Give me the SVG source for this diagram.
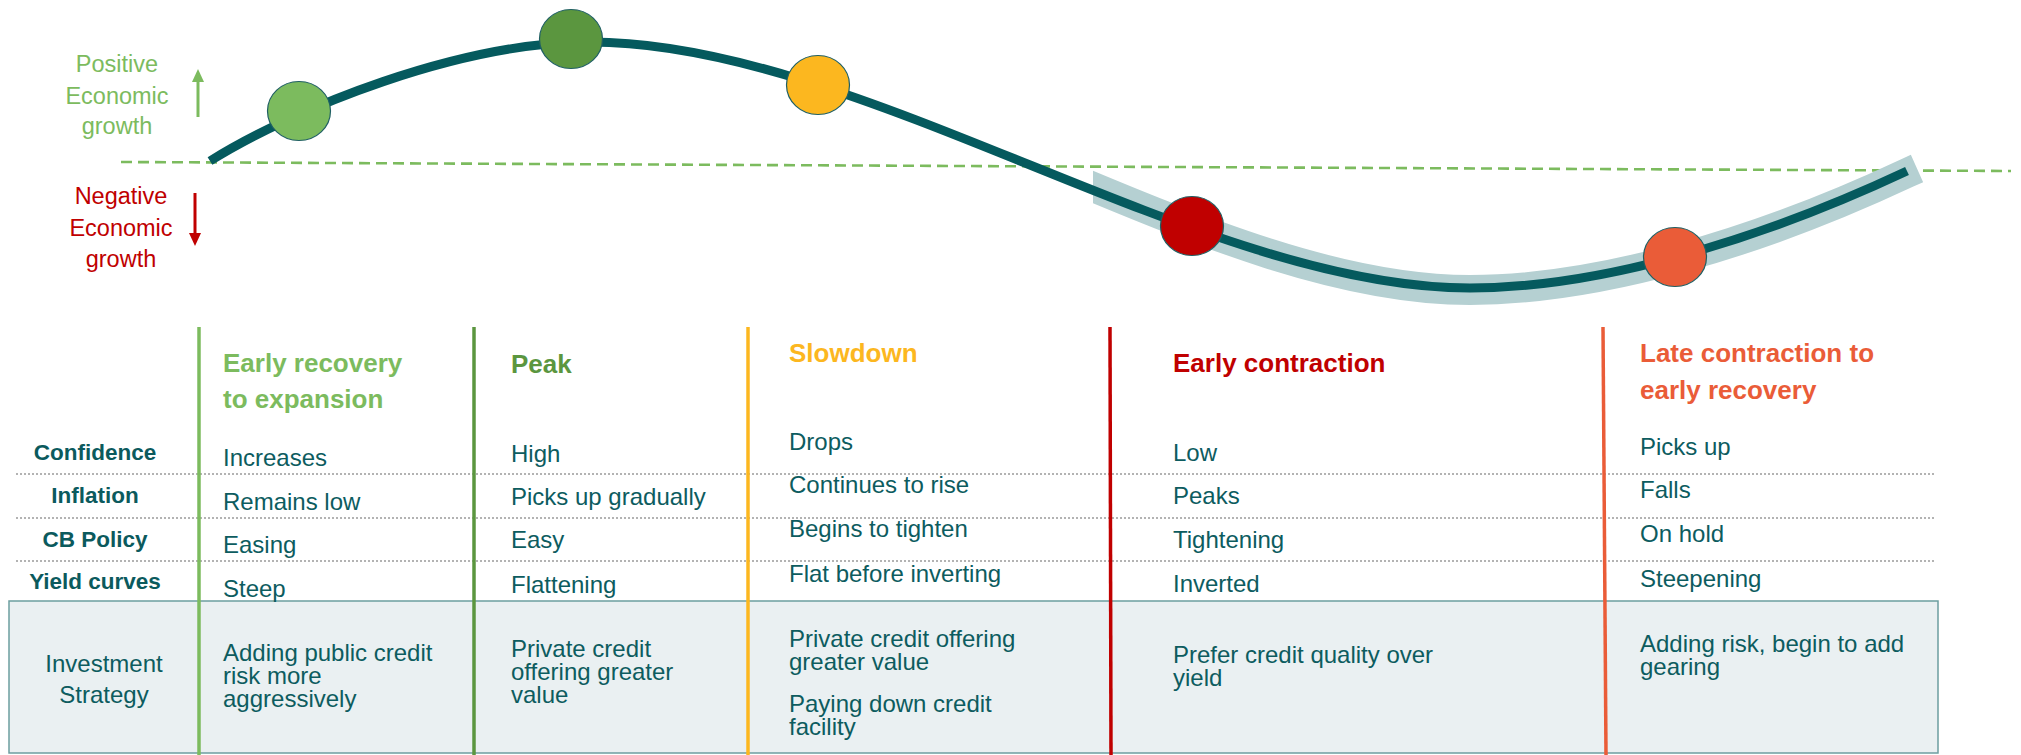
<svg xmlns="http://www.w3.org/2000/svg" width="2021" height="755" viewBox="0 0 2021 755">
  <defs>
    <style>
      text { font-family: "Liberation Sans", Arial, sans-serif; }
      .side { font-size: 23.5px; text-anchor: middle; }
      .pos { fill: #7CBB5E; }
      .neg { fill: #C00000; }
      .head { font-size: 26px; font-weight: bold; }
      .rowlbl { font-size: 22.5px; font-weight: bold; fill: #0B5A5D; text-anchor: middle; }
      .val { font-size: 24px; fill: #0D5C5F; }
      .dot { stroke: #9A9A9A; stroke-width: 1.6; stroke-dasharray: 2 2; fill: none; }
      .phase { stroke-width: 3.5; fill: none; }
      .marker { stroke: #1F5F63; stroke-width: 1.2; }
    </style>
    <clipPath id="bandClip">
      <rect x="1093" y="0" width="928" height="400"/>
    </clipPath>
  </defs>

  <rect width="2021" height="755" fill="#FFFFFF"/>

  <!-- growth axis labels -->
  <g id="positive-label">
    <text class="side pos" x="117" y="72">Positive</text>
    <text class="side pos" x="117" y="104">Economic</text>
    <text class="side pos" x="117" y="134">growth</text>
    <line x1="198" y1="117" x2="198" y2="80" stroke="#7CBB5E" stroke-width="3"/>
    <polygon points="198,69 192,82 204,82" fill="#7CBB5E"/>
  </g>
  <g id="negative-label">
    <text class="side neg" x="121" y="204">Negative</text>
    <text class="side neg" x="121" y="236">Economic</text>
    <text class="side neg" x="121" y="267">growth</text>
    <line x1="195" y1="193" x2="195" y2="235" stroke="#C00000" stroke-width="3"/>
    <polygon points="195,246 189,233 201,233" fill="#C00000"/>
  </g>

  <!-- zero-growth baseline -->
  <line x1="121" y1="162" x2="2011" y2="171" stroke="#7CBB5E" stroke-width="2.6" stroke-dasharray="11 6"/>

  <!-- business cycle curve -->
  <g id="cycle-curve">
    <path d="M1050,167 C1200,230 1340,288 1470,288 C1600,288 1760,240 1907,171 L1917,166.5"
          transform="translate(0,2)" clip-path="url(#bandClip)"
          stroke="#B5D0D2" stroke-width="30" fill="none" stroke-linecap="butt"/>
    <path d="M210,161 C295,108 460,42 590,42 C861,42 1199,288 1470,288 C1600,288 1760,240 1907,171"
          stroke="#055A5E" stroke-width="9" fill="none" stroke-linecap="butt"/>
  </g>

  <!-- phase markers on the curve -->
  <g id="marker-early-recovery"><ellipse class="marker" cx="299" cy="111" rx="31.5" ry="29.5" fill="#7CBB5E"/></g>
  <g id="marker-peak"><ellipse class="marker" cx="571" cy="39" rx="31.5" ry="29.5" fill="#5B963F"/></g>
  <g id="marker-slowdown"><ellipse class="marker" cx="818" cy="85" rx="31.5" ry="29.5" fill="#FCB71F"/></g>
  <g id="marker-early-contraction"><ellipse class="marker" cx="1192" cy="226" rx="31.5" ry="29.5" fill="#C00000"/></g>
  <g id="marker-late-contraction"><ellipse class="marker" cx="1675" cy="257" rx="31.5" ry="29.5" fill="#EA5C38"/></g>

  <!-- investment strategy band -->
  <rect x="9" y="601" width="1929" height="152" fill="#EAF0F2" stroke="#6C9EA0" stroke-width="1.5"/>

  <!-- row separators -->
  <g id="row-separators">
    <line class="dot" x1="16" y1="474" x2="1935" y2="474"/>
    <line class="dot" x1="16" y1="518" x2="1935" y2="518"/>
    <line class="dot" x1="16" y1="561" x2="1935" y2="561"/>
  </g>

  <!-- row labels -->
  <g id="row-labels">
    <text class="rowlbl" x="95" y="460">Confidence</text>
    <text class="rowlbl" x="95" y="503">Inflation</text>
    <text class="rowlbl" x="95" y="547">CB Policy</text>
    <text class="rowlbl" x="95" y="589">Yield curves</text>
    <text class="val" x="104" y="672" text-anchor="middle">Investment</text>
    <text class="val" x="104" y="703" text-anchor="middle">Strategy</text>
  </g>

  <!-- phase columns -->
  <g id="phase-early-recovery">
    <line class="phase" x1="199" y1="327" x2="199" y2="755" stroke="#7CBB5E"/>
    <text class="head" fill="#7CBB5E" x="223" y="372">Early recovery</text>
    <text class="head" fill="#7CBB5E" x="223" y="408">to expansion</text>
    <text class="val" x="223" y="466">Increases</text>
    <text class="val" x="223" y="510">Remains low</text>
    <text class="val" x="223" y="553">Easing</text>
    <text class="val" x="223" y="597">Steep</text>
    <text class="val" x="223" y="661">Adding public credit</text>
    <text class="val" x="223" y="684">risk more</text>
    <text class="val" x="223" y="707">aggressively</text>
  </g>

  <g id="phase-peak">
    <line class="phase" x1="474" y1="327" x2="474" y2="755" stroke="#5B963F"/>
    <text class="head" fill="#5B963F" x="511" y="373">Peak</text>
    <text class="val" x="511" y="462">High</text>
    <text class="val" x="511" y="505">Picks up gradually</text>
    <text class="val" x="511" y="548">Easy</text>
    <text class="val" x="511" y="593">Flattening</text>
    <text class="val" x="511" y="657">Private credit</text>
    <text class="val" x="511" y="680">offering greater</text>
    <text class="val" x="511" y="703">value</text>
  </g>

  <g id="phase-slowdown">
    <line class="phase" x1="748" y1="327" x2="748" y2="755" stroke="#FCB71F"/>
    <text class="head" fill="#FCB71F" x="789" y="362">Slowdown</text>
    <text class="val" x="789" y="450">Drops</text>
    <text class="val" x="789" y="493">Continues to rise</text>
    <text class="val" x="789" y="537">Begins to tighten</text>
    <text class="val" x="789" y="582">Flat before inverting</text>
    <text class="val" x="789" y="647">Private credit offering</text>
    <text class="val" x="789" y="670">greater value</text>
    <text class="val" x="789" y="712">Paying down credit</text>
    <text class="val" x="789" y="735">facility</text>
  </g>

  <g id="phase-early-contraction">
    <line class="phase" x1="1110" y1="327" x2="1111" y2="755" stroke="#C00000"/>
    <text class="head" fill="#C00000" x="1173" y="372">Early contraction</text>
    <text class="val" x="1173" y="461">Low</text>
    <text class="val" x="1173" y="504">Peaks</text>
    <text class="val" x="1173" y="548">Tightening</text>
    <text class="val" x="1173" y="592">Inverted</text>
    <text class="val" x="1173" y="663">Prefer credit quality over</text>
    <text class="val" x="1173" y="686">yield</text>
  </g>

  <g id="phase-late-contraction">
    <line class="phase" x1="1603" y1="327" x2="1606" y2="755" stroke="#EA5C38"/>
    <text class="head" fill="#EA5C38" x="1640" y="362">Late contraction to</text>
    <text class="head" fill="#EA5C38" x="1640" y="399">early recovery</text>
    <text class="val" x="1640" y="455">Picks up</text>
    <text class="val" x="1640" y="498">Falls</text>
    <text class="val" x="1640" y="542">On hold</text>
    <text class="val" x="1640" y="587">Steepening</text>
    <text class="val" x="1640" y="652">Adding risk, begin to add</text>
    <text class="val" x="1640" y="675">gearing</text>
  </g>
</svg>
